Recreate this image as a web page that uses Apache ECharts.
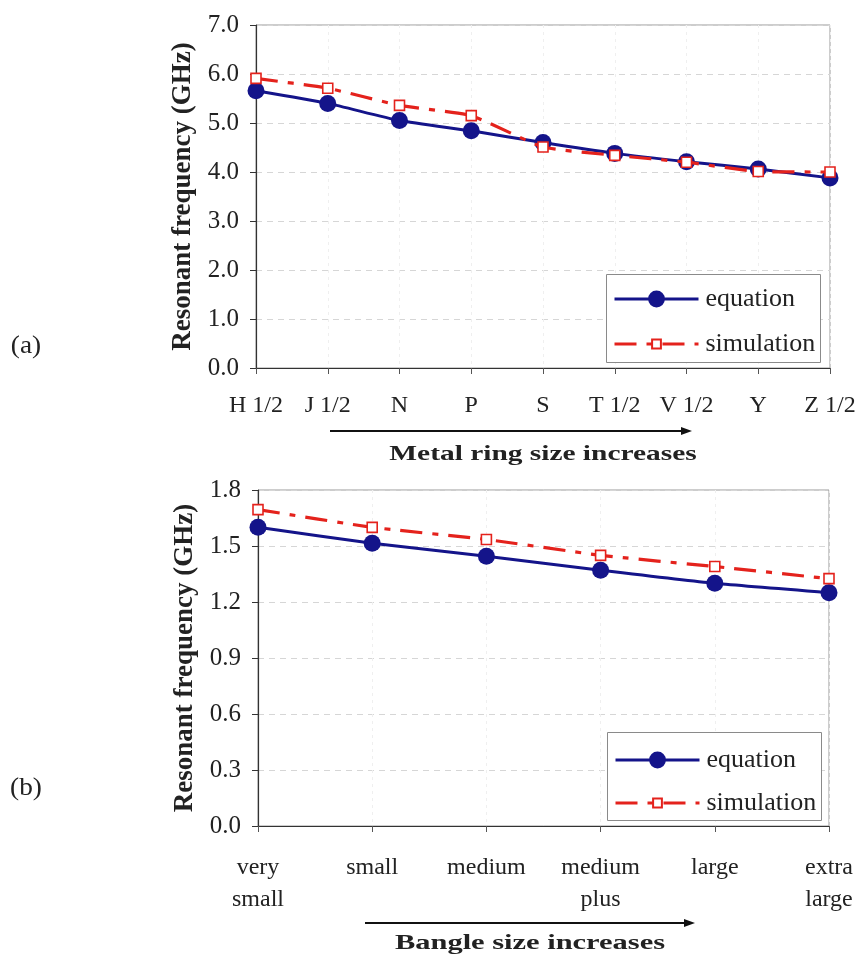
<!DOCTYPE html>
<html>
<head>
<meta charset="utf-8">
<script src="https://cdn.jsdelivr.net/npm/echarts@6/dist/echarts.min.js"></script>
<style>
  html, body { margin: 0; padding: 0; background: #fff; }
  #chart { width: 859px; height: 954px; }
</style>
</head>
<body>
<div id="chart"></div>
<script>
// (a) metal rings
const ringSizes = ['H 1/2', 'J 1/2', 'N', 'P', 'S', 'T 1/2', 'V 1/2', 'Y', 'Z 1/2'];
const ringEquation = [5.66, 5.40, 5.05, 4.84, 4.60, 4.38, 4.21, 4.06, 3.88];
const ringSimulation = [5.91, 5.71, 5.36, 5.15, 4.51, 4.34, 4.20, 4.01, 4.00];

// (b) bangles
const bangleSizes = ['very\nsmall', 'small', 'medium', 'medium\nplus', 'large', 'extra\nlarge'];
const bangleEquation = [1.60, 1.515, 1.445, 1.37, 1.30, 1.25];
const bangleSimulation = [1.695, 1.60, 1.535, 1.45, 1.39, 1.325];

const FONT = '"Liberation Serif", "Times New Roman", serif';
const TEXT = '#222';
const NAVY = '#14148a';
const RED = '#e4221c';

function yAxisFor(gridIndex, max, interval) {
  return {
    type: 'value', gridIndex, min: 0, max, interval,
    name: 'Resonant frequency (GHz)',
    nameLocation: 'middle', nameGap: 58,
    nameTextStyle: { fontFamily: FONT, fontSize: 27, fontWeight: 'bold', color: TEXT },
    axisLine: { show: true, lineStyle: { color: '#333', width: 1.2 } },
    axisTick: { show: true, inside: false, length: 6, lineStyle: { color: '#333' } },
    axisLabel: { fontFamily: FONT, fontSize: 25, color: TEXT, margin: 17,
                 formatter: v => v.toFixed(1) },
    splitLine: { show: true, lineStyle: { color: '#d6d6d6', type: [6, 5], width: 1 } }
  };
}

function xAxisFor(gridIndex, cats, margin) {
  return {
    type: 'category', gridIndex, data: cats, boundaryGap: false,
    axisLine: { show: true, lineStyle: { color: '#333', width: 1.2 } },
    axisTick: { show: true, inside: false, length: 6, alignWithLabel: true, lineStyle: { color: '#555' } },
    axisLabel: { fontFamily: FONT, fontSize: 24, color: TEXT, margin, lineHeight: 32, interval: 0 },
    splitLine: { show: true, lineStyle: { color: '#efefef', type: [3, 4], width: 1 } }
  };
}

function equationSeries(idx, data) {
  return {
    name: 'equation', type: 'line', xAxisIndex: idx, yAxisIndex: idx, data,
    smooth: 0.2, symbol: 'circle', symbolSize: 17,
    itemStyle: { color: NAVY },
    lineStyle: { color: NAVY, width: 3 }, z: 3
  };
}

function simulationSeries(idx, data) {
  return {
    name: 'simulation', type: 'line', xAxisIndex: idx, yAxisIndex: idx, data,
    smooth: 0.15, symbol: 'rect', symbolSize: 10,
    itemStyle: { color: '#fff', borderColor: RED, borderWidth: 1.6 },
    lineStyle: { color: RED, width: 3.2, type: [22, 10, 6, 10] }, z: 4
  };
}

// one legend row; icon height sets the size of the drawn marker
function legendRow(name, left, centerY, iconH) {
  return {
    orient: 'vertical', left, top: centerY - 13,
    data: [name],
    itemWidth: 84, itemHeight: iconH,
    padding: 0, selectedMode: false, z: 6,
    lineStyle: { width: 3 },
    textStyle: { fontFamily: FONT, fontSize: 26, color: TEXT, lineHeight: 26, padding: [0, 0, 0, 2] }
  };
}

// framed box behind each legend
function legendFrame(x, y, w, h) {
  return { type: 'rect', z: 5, shape: { x, y, width: w, height: h },
           style: { fill: '#fff', stroke: '#8a8a8a', lineWidth: 1 } };
}

// arrow under each category axis
function arrow(x1, x2, y) {
  return [
    { type: 'line', shape: { x1, y1: y, x2: x2 - 8, y2: y }, style: { stroke: '#111', lineWidth: 2 } },
    { type: 'polygon', shape: { points: [[x2, y], [x2 - 11, y - 4], [x2 - 11, y + 4]] }, style: { fill: '#111' } }
  ];
}

function caption(text, x, y, font, sx) {
  return { type: 'text', x, y, scaleX: sx,
           style: { text, font, fill: TEXT, align: 'center', verticalAlign: 'middle' } };
}

const chart = echarts.init(document.getElementById('chart'), null, { renderer: 'canvas' });
chart.setOption({
  backgroundColor: '#fff',
  animation: false,
  grid: [
    { left: 256, top: 25, width: 574, height: 343, show: true, borderColor: '#9a9a9a', borderWidth: 1 },
    { left: 258, top: 490, width: 571, height: 336, show: true, borderColor: '#9a9a9a', borderWidth: 1 }
  ],
  xAxis: [xAxisFor(0, ringSizes, 22), xAxisFor(1, bangleSizes, 26)],
  yAxis: [yAxisFor(0, 7, 1), yAxisFor(1, 1.8, 0.3)],
  legend: [
    legendRow('equation', 613, 299, 21), legendRow('simulation', 613, 344, 11),
    legendRow('equation', 614, 760, 21), legendRow('simulation', 614, 803, 11)
  ],
  series: [
    equationSeries(0, ringEquation), simulationSeries(0, ringSimulation),
    equationSeries(1, bangleEquation), simulationSeries(1, bangleSimulation)
  ],
  graphic: [
    legendFrame(606.5, 274.5, 214, 88),
    legendFrame(607.5, 732.5, 214, 88),
    ...arrow(330, 692, 431),
    ...arrow(365, 695, 923),
    caption('Metal ring size increases', 543, 455, 'bold 21px ' + FONT, 1.4),
    caption('Bangle size increases', 530, 944, 'bold 21px ' + FONT, 1.45),
    caption('(a)', 26, 346, '26px ' + FONT, 1.05),
    caption('(b)', 26, 788, '26px ' + FONT, 1.05)
  ]
});
</script>
</body>
</html>
